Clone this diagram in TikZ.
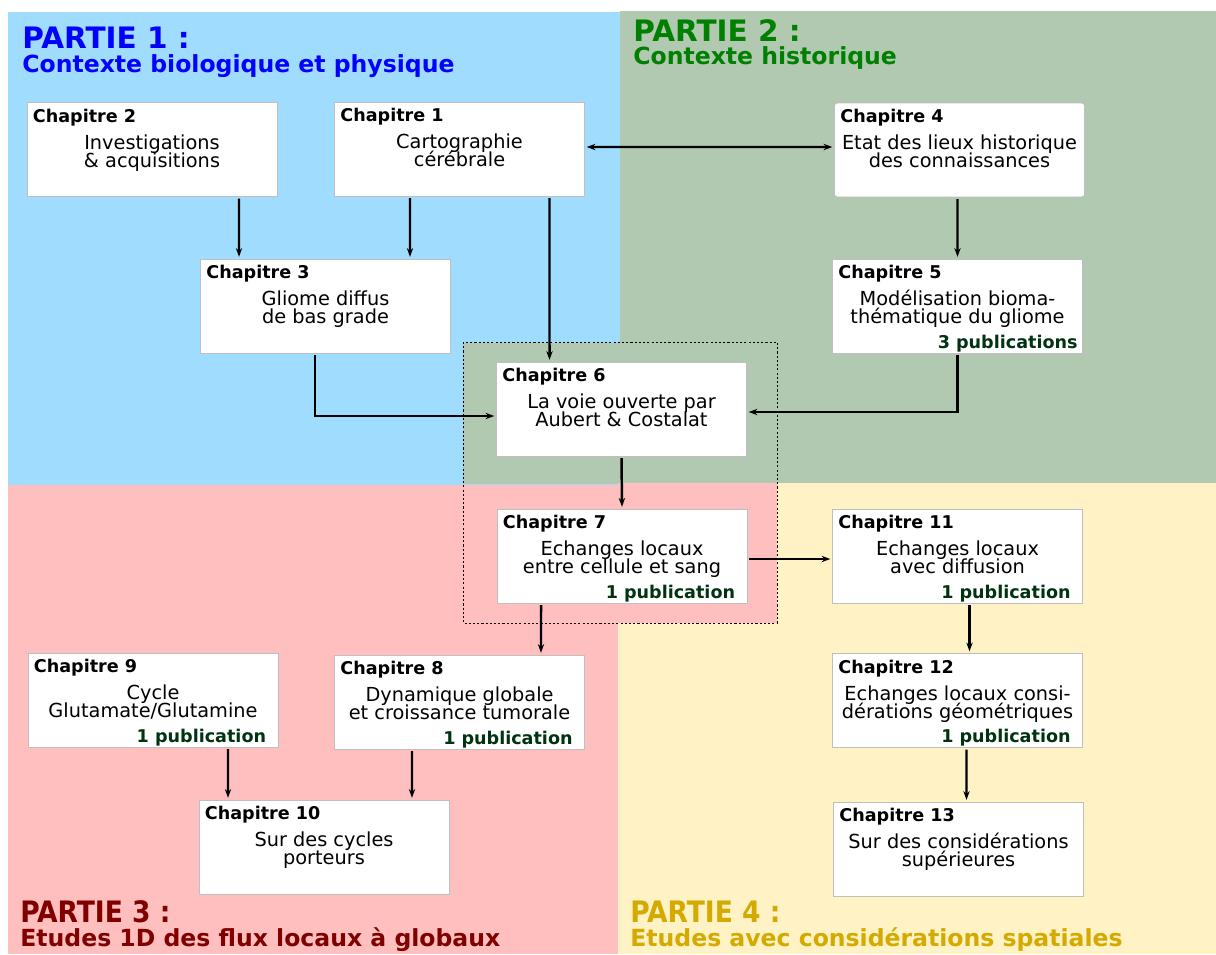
\documentclass[tikz,border=0pt]{standalone}
\usepackage{fontspec}
\setmainfont{DejaVu Sans}
\newfontfamily\condfont{DejaVu Sans Condensed}
\usepackage{tikz}
\usetikzlibrary{arrows.meta,calc}

\definecolor{bleuzone}{RGB}{159,220,254}
\definecolor{vertzone}{RGB}{176,201,176}
\definecolor{rosezone}{RGB}{255,191,191}
\definecolor{jaunezone}{RGB}{255,242,197}
\definecolor{bleutitre}{RGB}{0,0,255}
\definecolor{verttitre}{RGB}{0,128,0}
\definecolor{rougetitre}{RGB}{128,0,0}
\definecolor{jaunetitre}{RGB}{212,170,0}
\definecolor{vertpub}{RGB}{0,51,17}

\begin{document}
\begin{tikzpicture}[x=0.02cm,y=-0.02cm,
  chapbox/.style={draw=black!25,line width=0.5pt,fill=white,minimum width=5cm,minimum height=1.88cm,inner sep=0pt},
  chaptitle/.style={anchor=base west,inner sep=0pt,font=\fontsize{10}{12}\selectfont\bfseries},
  chaptext/.style={anchor=base,inner sep=0pt,align=center,font={\fontsize{11}{10.25}\selectfont\lineskiplimit=-20pt\relax}},
  chappub/.style={anchor=base east,inner sep=0pt,text=vertpub,font=\fontsize{10}{12}\selectfont\bfseries},
  partie/.style={anchor=base west,inner sep=0pt,text depth=0pt,font=\fontsize{16.8}{18}\selectfont\bfseries},
  soustitre/.style={anchor=base west,inner sep=0pt,font=\fontsize{13.4}{15}\selectfont\bfseries},
  tip/.tip={Stealth[length=5pt,width=3.6pt]},
  flow/.style={-tip,line width=1.4pt,shorten <=1pt,shorten >=1pt}]
  \useasboundingbox (0,0) rectangle (1216,954);
  % Zones of the four parts
  \fill[bleuzone] (8,12) rectangle (620,485);
  \fill[vertzone] (620,11) rectangle (1216,483);
  \fill[rosezone] (8,485) rectangle (618,954);
  \fill[jaunezone] (618,483) rectangle (1216,954);
  \fill[vertzone] (463,343) rectangle (620,484);
  \fill[rosezone] (618,483) rectangle (777,623);
  % Shared frame round chapters 6 and 7
  \draw[dash pattern=on 1.2pt off 1.2pt,line width=0.4pt] (463,342) rectangle (777,623);
  % Part titles
  \node[partie,bleutitre] (p1) at (22,48) {PARTIE 1 :};
  \node[soustitre,bleutitre] (p1s) at (22,72) {Contexte biologique et physique};
  \node[partie,verttitre] (p2) at (633,41) {PARTIE 2 :};
  \node[soustitre,verttitre] (p2s) at (633,64) {Contexte historique};
  \node[partie,rougetitre,font=\fontsize{16.8}{18}\selectfont\condfont\bfseries] (p3) at (20,922) {PARTIE 3 :};
  \node[soustitre,rougetitre] (p3s) at (20,946) {Etudes 1D des flux locaux à globaux};
  \node[partie,jaunetitre,font=\fontsize{16.8}{18}\selectfont\condfont\bfseries] (p4) at (630,922) {PARTIE 4 :};
  \node[soustitre,jaunetitre] (p4s) at (630,946) {Etudes avec considérations spatiales};
  % Chapitre 2
  \node[chapbox] (c2) at (152,149.5) {};
  \node[chaptitle] (c2t) at ($(c2.north west)+(6,20)$) {Chapitre 2};
  \node[chaptext] (c2b) at ($(c2.north)+(0,65)$) {Investigations\\\& acquisitions};
  % Chapitre 1
  \node[chapbox] (c1) at (459.5,149) {};
  \node[chaptitle] (c1t) at ($(c1.north west)+(6,20)$) {Chapitre 1};
  \node[chaptext] (c1b) at ($(c1.north)+(0,65)$) {Cartographie\\cérébrale};
  % Chapitre 4
  \node[chapbox,rounded corners=1.5pt] (c4) at (959.5,150) {};
  \node[chaptitle] (c4t) at ($(c4.north west)+(6,20)$) {Chapitre 4};
  \node[chaptext] (c4b) at ($(c4.north)+(0,65)$) {Etat des lieux historique\\des connaissances};
  % Chapitre 3
  \node[chapbox] (c3) at (325.5,306) {};
  \node[chaptitle] (c3t) at ($(c3.north west)+(6,20)$) {Chapitre 3};
  \node[chaptext] (c3b) at ($(c3.north)+(0,65)$) {Gliome diffus\\de bas grade};
  % Chapitre 5
  \node[chapbox] (c5) at (957.5,306) {};
  \node[chaptitle] (c5t) at ($(c5.north west)+(6,20)$) {Chapitre 5};
  \node[chaptext] (c5b) at ($(c5.north)+(0,65)$) {Modélisation bioma-\\thématique du gliome};
  \node[chappub] (c5p) at ($(c5.south east)+(-5,-5)$) {3 publications};
  % Chapitre 6
  \node[chapbox] (c6) at (621.5,409) {};
  \node[chaptitle] (c6t) at ($(c6.north west)+(6,20)$) {Chapitre 6};
  \node[chaptext] (c6b) at ($(c6.north)+(0,65)$) {La voie ouverte par\\Aubert \& Costalat};
  % Chapitre 7
  \node[chapbox] (c7) at (622,556) {};
  \node[chaptitle] (c7t) at ($(c7.north west)+(6,20)$) {Chapitre 7};
  \node[chaptext] (c7b) at ($(c7.north)+(0,65)$) {Echanges locaux\\entre cellule et sang};
  \node[chappub] (c7p) at ($(c7.south east)+(-12,-5)$) {1 publication};
  % Chapitre 11
  \node[chapbox] (c11) at (957.5,556) {};
  \node[chaptitle] (c11t) at ($(c11.north west)+(6,20)$) {Chapitre 11};
  \node[chaptext] (c11b) at ($(c11.north)+(0,65)$) {Echanges locaux\\avec diffusion};
  \node[chappub] (c11p) at ($(c11.south east)+(-12,-5)$) {1 publication};
  % Chapitre 9
  \node[chapbox] (c9) at (153,700) {};
  \node[chaptitle] (c9t) at ($(c9.north west)+(6,20)$) {Chapitre 9};
  \node[chaptext] (c9b) at ($(c9.north)+(0,65)$) {Cycle\\Glutamate/Glutamine};
  \node[chappub] (c9p) at ($(c9.south east)+(-12,-5)$) {1 publication};
  % Chapitre 8
  \node[chapbox] (c8) at (459.5,702) {};
  \node[chaptitle] (c8t) at ($(c8.north west)+(6,20)$) {Chapitre 8};
  \node[chaptext] (c8b) at ($(c8.north)+(0,65)$) {Dynamique globale\\et croissance tumorale};
  \node[chappub] (c8p) at ($(c8.south east)+(-12,-5)$) {1 publication};
  % Chapitre 12
  \node[chapbox] (c12) at (957.5,700.5) {};
  \node[chaptitle] (c12t) at ($(c12.north west)+(6,20)$) {Chapitre 12};
  \node[chaptext] (c12b) at ($(c12.north)+(0,65)$) {Echanges locaux consi-\\dérations géométriques};
  \node[chappub] (c12p) at ($(c12.south east)+(-12,-5)$) {1 publication};
  % Chapitre 10
  \node[chapbox] (c10) at (324,847) {};
  \node[chaptitle] (c10t) at ($(c10.north west)+(6,20)$) {Chapitre 10};
  \node[chaptext] (c10b) at ($(c10.north)+(0,65)$) {Sur des cycles\\porteurs};
  % Chapitre 13
  \node[chapbox] (c13) at (958.5,849) {};
  \node[chaptitle] (c13t) at ($(c13.north west)+(6,20)$) {Chapitre 13};
  \node[chaptext] (c13b) at ($(c13.north)+(0,65)$) {Sur des considérations\\supérieures};
  % Links between chapters
  \draw[flow] ([xshift=1.74cm]c2.south) -- ([xshift=-1.73cm]c3.north);
  \draw[flow] ([xshift=-0.99cm]c1.south) -- ([xshift=1.69cm]c3.north);
  \draw[flow] ([xshift=1.8cm]c1.south) -- ([xshift=-1.44cm]c6.north);
  \draw[flow,tip-tip] ([yshift=0.04cm]c1.east) -- ([yshift=0.06cm]c4.west);
  \draw[flow] ([xshift=-0.04cm]c4.south) -- (c5.north);
  \draw[flow] ([xshift=-0.21cm]c3.south) |- ([yshift=-0.14cm]c6.west);
  \draw[flow] (c5.south) |- ([yshift=-0.06cm]c6.east);
  \draw[flow] (c6.south) -- (c7.north);
  \draw[flow] ([yshift=-0.06cm]c7.east) -- ([yshift=-0.06cm]c11.west);
  \draw[flow] ([xshift=-1.62cm]c7.south) -- ([xshift=1.63cm]c8.north);
  \draw[flow] ([xshift=0.24cm]c11.south) -- ([xshift=0.24cm]c12.north);
  \draw[flow] ([xshift=0.18cm]c12.south) -- ([xshift=0.16cm]c13.north);
  \draw[flow] ([xshift=1.5cm]c9.south) -- ([xshift=-1.92cm]c10.north);
  \draw[flow] ([xshift=-0.95cm]c8.south) -- ([xshift=1.76cm]c10.north);
\end{tikzpicture}
\end{document}
